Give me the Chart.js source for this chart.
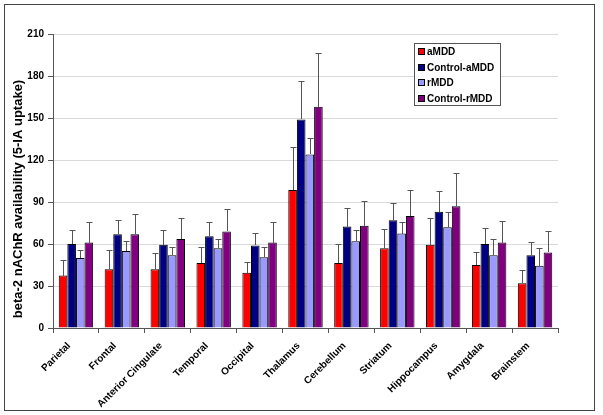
<!DOCTYPE html>
<html>
<head>
<meta charset="utf-8">
<script src="https://cdn.jsdelivr.net/npm/chart.js@4"></script>
<style>
  html, body { margin: 0; padding: 0; background: #fff; }
  #box { width: 603px; height: 415px; }
</style>
</head>
<body>
<div id="box"><canvas id="betaChart" width="603" height="415"></canvas></div>
<script>
// Regioni cerebrali e valori
const regions = ['Parietal', 'Frontal', 'Anterior Cingulate', 'Temporal', 'Occipital', 'Thalamus',
                 'Cerebellum', 'Striatum', 'Hippocampus', 'Amygdala', 'Brainstem'];

const aMDD     = [37.5, 42, 42, 46.5, 39.5, 98.5, 46.5, 57, 59.5, 45, 32];
const aMDDErr  = [11, 13.5, 11.5, 11.5, 8, 31, 13.3, 13.5, 19, 9.5, 9.7];

const ctrlA    = [60, 67, 59.5, 65.5, 59, 149, 72.5, 77, 83, 60, 52];
const ctrlAErr = [10, 10.4, 10.3, 10.2, 9.1, 27.5, 13, 12, 15, 11.2, 9.4];

const rMDD     = [50, 55, 52, 57, 50.5, 124, 62, 67.5, 72, 52, 44.5];
const rMDDErr  = [6, 7.4, 6, 6.3, 7.6, 11.5, 7.8, 8, 11, 11.3, 12.6];

const ctrlR    = [61, 67, 63.5, 69, 61, 158, 73, 80, 87, 61, 54];
const ctrlRErr = [14.7, 14.2, 14.8, 15.8, 14.7, 38.5, 17.5, 18.4, 23.5, 15.7, 15];

const yTicks = [0, 30, 60, 90, 120, 150, 180, 210];
const yTitle = 'beta-2 nAChR availability (5-IA uptake)';

const FONT = 'Liberation Sans, Arial, sans-serif';

// Barre di errore (solo verso l'alto)
const errorBars = {
    id: 'errorBars',
    afterDatasetsDraw(chart) {
        const ctx = chart.ctx;
        const y = chart.scales.y;
        ctx.save();
        ctx.lineWidth = 1;
        ctx.strokeStyle = '#555';
        chart.data.datasets.forEach(function(ds, di) {
            const meta = chart.getDatasetMeta(di);
            meta.data.forEach(function(bar, i) {
                const x = Math.round(bar.x) + 0.5;
                const top = Math.round(y.getPixelForValue(ds.data[i] + ds.errors[i])) + 0.5;
                const base = Math.round(y.getPixelForValue(ds.data[i]));
                ctx.beginPath();
                ctx.moveTo(x, base);
                ctx.lineTo(x, top);
                ctx.moveTo(x - 3, top);
                ctx.lineTo(x + 3, top);
                ctx.stroke();
            });
        });
        ctx.restore();
    }
};

// Cornice esterna, titolo asse y e legenda dentro l'area del grafico
const frameAndLegend = {
    id: 'frameAndLegend',
    beforeDraw(chart) {
        const ctx = chart.ctx;
        ctx.save();
        ctx.fillStyle = '#fff';
        ctx.fillRect(0, 0, chart.width, chart.height);
        ctx.strokeStyle = '#444';
        ctx.lineWidth = 1;
        ctx.strokeRect(4.5, 4.5, 590, 406);
        ctx.restore();
    },
    afterDraw(chart) {
        const ctx = chart.ctx;
        ctx.save();
        // titolo asse y
        ctx.translate(18, 199);
        ctx.rotate(-Math.PI / 2);
        ctx.font = 'bold 13px ' + FONT;
        ctx.fillStyle = '#000';
        ctx.textAlign = 'center';
        ctx.textBaseline = 'middle';
        ctx.fillText(yTitle, 0, 0);
        ctx.restore();

        ctx.save();
        ctx.fillStyle = '#fff';
        ctx.fillRect(414.5, 43.5, 86, 62);
        ctx.strokeStyle = '#555';
        ctx.lineWidth = 1;
        ctx.strokeRect(414.5, 43.5, 86, 62);
        ctx.font = 'bold 10px ' + FONT;
        ctx.textBaseline = 'middle';
        chart.data.datasets.forEach(function(ds, i) {
            const ly = 52 + i * 15.5;
            ctx.fillStyle = ds.backgroundColor;
            ctx.fillRect(418.5, Math.round(ly) - 3.5, 6, 6);
            ctx.strokeStyle = '#000';
            ctx.strokeRect(418.5, Math.round(ly) - 3.5, 6, 6);
            ctx.fillStyle = '#000';
            ctx.fillText(ds.label, 427, ly + 0.5);
        });
        ctx.restore();
    }
};

function makeSet(label, data, errors, color) {
    return {
        label: label,
        data: data,
        errors: errors,
        backgroundColor: color,
        borderColor: '#000',
        borderWidth: 1,
        categoryPercentage: 0.75,
        barPercentage: 1.0
    };
}

const chart = new Chart(document.getElementById('betaChart').getContext('2d'), {
    type: 'bar',
    data: {
        labels: regions,
        datasets: [
            makeSet('aMDD', aMDD, aMDDErr, '#ff0000'),
            makeSet('Control-aMDD', ctrlA, ctrlAErr, '#000080'),
            makeSet('rMDD', rMDD, rMDDErr, '#9999ff'),
            makeSet('Control-rMDD', ctrlR, ctrlRErr, '#800080')
        ]
    },
    options: {
        responsive: false,
        animation: false,
        devicePixelRatio: 1,
        layout: { padding: { top: 34, right: 45, left: 0, bottom: 0 } },
        plugins: {
            legend: { display: false },
            tooltip: { enabled: false }
        },
        scales: {
            x: {
                grid: { display: true, drawOnChartArea: false, drawTicks: true, tickLength: 5, color: '#555', offset: true },
                border: { color: '#555' },
                ticks: {
                    color: '#000',
                    font: { family: FONT, size: 10, weight: 'bold' },
                    maxRotation: 45,
                    minRotation: 45,
                    autoSkip: false,
                    labelOffset: -7,
                    padding: 7
                },
                afterFit: function(scale) { scale.height = 87; }
            },
            y: {
                min: 0,
                max: 210,
                afterBuildTicks: function(scale) {
                    scale.ticks = yTicks.map(function(v) { return { value: v }; });
                },
                grid: { color: '#d9d9d9', tickColor: '#555', tickLength: 5 },
                border: { color: '#555' },
                ticks: {
                    color: '#000',
                    font: { family: FONT, size: 10, weight: 'bold' },
                    padding: 4
                },
                afterFit: function(scale) { scale.width = 53; }
            }
        }
    },
    plugins: [errorBars, frameAndLegend]
});
</script>
</body>
</html>
